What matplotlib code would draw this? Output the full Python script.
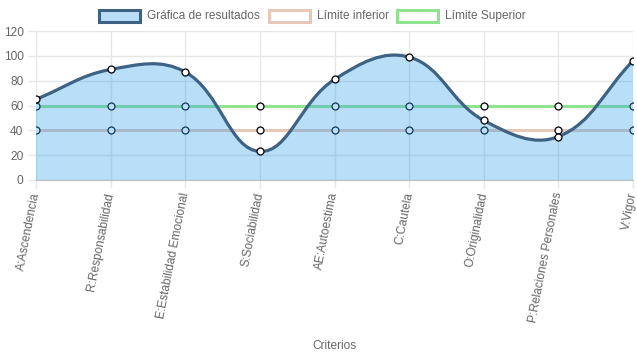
import numpy as np
import matplotlib
matplotlib.use("Agg")
import matplotlib.pyplot as plt
from matplotlib.path import Path
from matplotlib.patches import PathPatch, Rectangle

# datos
criterios = ["A:Ascendencia", "R:Responsabilidad", "E:Estabilidad Emocional",
             "S:Sociabilidad", "AE:Autoestima", "C:Cautela", "O:Originalidad",
             "P:Relaciones Personales", "V:Vigor"]
resultados = [65, 89, 87, 23, 81, 99, 48, 35, 96]
limite_inferior = [40, 40, 40, 40, 40, 40, 40, 40, 40]
limite_superior = [60, 60, 60, 60, 60, 60, 60, 60, 60]

W, H = 637, 359
AX_L, AX_R, AX_T, AX_B = 36, 633, 31, 180
GRIS = "#666666"
FONT = "Liberation Sans"
FS = 8.6


def spline_path(xs, ys, sx, sy, tension=0.4, y_min=0, y_max=120):
    # curva bezier al estilo Chart.js, calculada en pixeles
    px = np.array(xs, float) * sx
    py = np.array(ys, float) * sy
    n = len(px)
    cp_prev = []
    cp_next = []
    for i in range(n):
        pvx, pvy = (px[i-1], py[i-1]) if i > 0 else (px[i], py[i])
        nxx, nxy = (px[i+1], py[i+1]) if i < n-1 else (px[i], py[i])
        d01 = np.hypot(px[i]-pvx, py[i]-pvy)
        d12 = np.hypot(nxx-px[i], nxy-py[i])
        tot = d01 + d12
        s01 = d01/tot if tot else 0
        s12 = d12/tot if tot else 0
        fa = tension*s01
        fb = tension*s12
        cp_prev.append((px[i]-fa*(nxx-pvx), py[i]-fa*(nxy-pvy)))
        cp_next.append((px[i]+fb*(nxx-pvx), py[i]+fb*(nxy-pvy)))
    verts = [(px[0], py[0])]
    codes = [Path.MOVETO]
    for i in range(n-1):
        verts += [cp_next[i], cp_prev[i+1], (px[i+1], py[i+1])]
        codes += [Path.CURVE4]*3
    verts = np.array(verts)
    verts[:, 0] /= sx
    verts[:, 1] /= sy
    verts[:, 1] = np.clip(verts[:, 1], y_min, y_max)
    return verts, codes


fig = plt.figure(figsize=(W/100, H/100), dpi=100)
ax = fig.add_axes([AX_L/W, 1-AX_B/H, (AX_R-AX_L)/W, (AX_B-AX_T)/H])
x = np.arange(len(criterios))
ax.set_xlim(0, len(criterios)-1)
ax.set_ylim(0, 120)

sx = (AX_R-AX_L)/(len(criterios)-1)
sy = (AX_B-AX_T)/120

# limites
ax.plot(x, limite_inferior, color="#e5c8b8", lw=2.2, zorder=2,
        marker="o", ms=5, mfc="white", mec="black", mew=0.9)
ax.plot(x, limite_superior, color="#8fe38f", lw=2.2, zorder=2,
        marker="o", ms=5, mfc="white", mec="black", mew=0.9)

# resultados
verts, codes = spline_path(x, resultados, sx, sy)
fill_verts = np.vstack([verts, [[x[-1], 0], [x[0], 0], [x[0], verts[0, 1]]]])
fill_codes = codes + [Path.LINETO, Path.LINETO, Path.CLOSEPOLY]
ax.add_patch(PathPatch(Path(fill_verts, fill_codes), facecolor=(54/255, 162/255, 235/255, 0.35),
                       edgecolor="none", zorder=3))
ax.add_patch(PathPatch(Path(verts, codes), facecolor="none", edgecolor="#3e6283",
                       lw=2.3, zorder=4))
ax.plot(x, resultados, ls="none", marker="o", ms=5, mfc="white", mec="black",
        mew=0.9, zorder=5)

# ejes y rejilla
ax.set_yticks(range(0, 121, 20))
ax.set_xticks(x)
ax.grid(True, color="#e6e6e6", lw=1, zorder=0)
ax.set_axisbelow(True)
for s in ["top", "right", "left"]:
    ax.spines[s].set_visible(False)
ax.spines["bottom"].set_color("#bfbfbf")
ax.tick_params(axis="both", colors="#e6e6e6", length=6, width=1)
ax.tick_params(axis="y", labelcolor=GRIS, labelsize=FS, pad=3)
ax.tick_params(axis="x", labelcolor=GRIS, labelsize=FS, pad=2)
for lab in ax.get_yticklabels():
    lab.set_fontfamily(FONT)
ax.set_xticklabels(criterios, rotation=79, ha="right", va="center",
                   rotation_mode="anchor", fontfamily=FONT)
for lab in ax.get_xticklabels():
    lab.set_y(-0.01)

fig.text((AX_L+AX_R)/2/W, 1-346/H, "Criterios", ha="center", va="center",
         color=GRIS, fontsize=FS, fontfamily=FONT)

# leyenda
leyenda = [("Gráfica de resultados", (54/255, 162/255, 235/255, 0.35), "#3e6283", 99),
           ("Límite inferior", "white", "#e5c8b8", 269),
           ("Límite Superior", "white", "#8fe38f", 397)]
for texto, fc, ec, x0 in leyenda:
    fig.patches.append(Rectangle((x0/W, 1-22/H), 41/W, 12/H, transform=fig.transFigure,
                                 facecolor=fc, edgecolor=ec, lw=2.2))
    fig.text((x0+48)/W, 1-16/H, texto, ha="left", va="center", color=GRIS,
             fontsize=FS, fontfamily=FONT)

fig.savefig("out.png", dpi=100)
